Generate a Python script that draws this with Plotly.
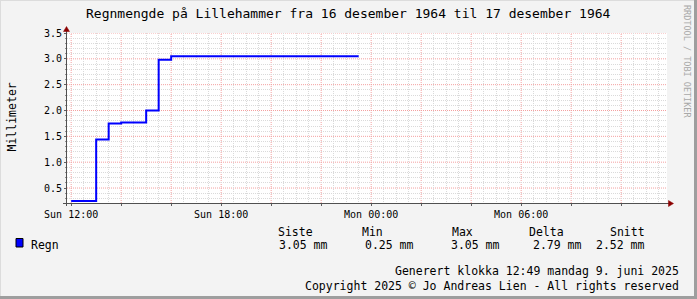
import plotly.graph_objects as go
import pandas as pd

# ---------------- data ----------------
TITLE = "Regnmengde på Lillehammer fra 16 desember 1964 til 17 desember 1964"
Y_LABEL = "Millimeter"
WATERMARK = "RRDTOOL / TOBI OETIKER"

times = ["1964-12-16 12:00", "1964-12-16 13:00", "1964-12-16 13:30",
         "1964-12-16 14:00", "1964-12-16 15:00", "1964-12-16 15:30",
         "1964-12-16 16:00", "1964-12-16 23:30"]
rain_mm = [0.25, 1.44, 1.75, 1.77, 2.00, 2.98, 3.05, 3.05]

x_range = ["1964-12-16 11:50", "1964-12-17 11:50"]
x_tickvals = ["1964-12-16 12:00", "1964-12-16 14:00", "1964-12-16 16:00",
              "1964-12-16 18:00", "1964-12-16 20:00", "1964-12-16 22:00",
              "1964-12-17 00:00", "1964-12-17 02:00", "1964-12-17 04:00",
              "1964-12-17 06:00", "1964-12-17 08:00", "1964-12-17 10:00"]
x_ticktext = ["Sun 12:00", "", "", "Sun 18:00", "", "",
              "Mon 00:00", "", "", "Mon 06:00", "", ""]

y_range = [0.21, 3.5]
y_tickvals = [0.5, 1.0, 1.5, 2.0, 2.5, 3.0, 3.5]
y_ticktext = ["0.5", "1.0", "1.5", "2.0", "2.5", "3.0", "3.5"]

series_name = "Regn"
stat_headers = ["Siste", "Min", "Max", "Delta", "Snitt"]
stat_values = ["3.05 mm", "0.25 mm", "3.05 mm", "2.79 mm", "2.52 mm"]
footer_lines = ["Generert klokka 12:49 mandag 9. juni 2025",
                "Copyright 2025 © Jo Andreas Lien - All rights reserved"]

# ---------------- geometry (pixels) ----------------
FW, FH = 697, 299
L, R, T, B = 67, 667, 33, 203
FONT = "DejaVu Sans Mono"


def px(x):
    return (x - L) / (R - L)


def py(y):
    return (B - y) / (B - T)


# minor grid positions (every 30 min / every 0.1), skipping the major lines
major_x = set(pd.to_datetime(x_tickvals))
minor_x = [t.strftime("%Y-%m-%d %H:%M")
           for t in pd.date_range("1964-12-16 12:00", "1964-12-17 11:30", freq="30min")
           if t not in major_x]
minor_y = [round(0.3 + 0.1 * i, 1) for i in range(33)]
minor_y = [v for v in minor_y if v <= 3.45 and round(v * 10) % 5 != 0]

fig = go.Figure()
fig.add_trace(go.Scatter(
    x=times, y=rain_mm, mode="lines", line=dict(color="#0000FF", width=2, shape="hv"),
    name=series_name, showlegend=False, hoverinfo="skip"))

red_grid = "#F4A0A0"
gray_grid = "#DADADA"

fig.update_layout(
    width=FW, height=FH,
    margin=dict(l=L, r=FW - R, t=T, b=FH - B, pad=0),
    paper_bgcolor="#F3F3F3", plot_bgcolor="#FFFFFF",
    font=dict(family=FONT, size=10, color="#000000"),
    showlegend=False,
    xaxis=dict(type="date", range=x_range, tickmode="array",
               tickvals=x_tickvals, ticktext=x_ticktext,
               showgrid=False,
               ticks="outside", ticklen=2, tickcolor="#606060",
               minor=dict(tickmode="array", tickvals=minor_x,
                          showgrid=True, gridcolor=gray_grid, griddash="1px,1px",
                          ticks="", gridwidth=1),
               zeroline=False, showline=False, fixedrange=True,
               tickfont=dict(family=FONT, size=10)),
    yaxis=dict(range=y_range, tickmode="array", tickvals=y_tickvals, ticktext=y_ticktext,
               showgrid=False,
               ticks="outside", ticklen=2, tickcolor="#606060",
               minor=dict(tickmode="array", tickvals=minor_y,
                          showgrid=True, gridcolor=gray_grid, griddash="1px,1px",
                          ticks="outside", ticklen=1, tickcolor="#909090", gridwidth=1),
               zeroline=False, showline=False, fixedrange=True,
               tickfont=dict(family=FONT, size=10)),
)

shapes = []
# major grid (red dotted) at the major tick positions
for tv in x_tickvals:
    shapes.append(dict(type="line", xref="x", yref="paper", x0=tv, x1=tv, y0=0, y1=1,
                       layer="below", line=dict(color=red_grid, width=1, dash="1px,1px")))
for tv in y_tickvals:
    shapes.append(dict(type="line", xref="paper", yref="y", x0=0, x1=1, y0=tv, y1=tv,
                       layer="below", line=dict(color=red_grid, width=1, dash="1px,1px")))
# axis lines
shapes.append(dict(type="line", xref="paper", yref="paper",
                   x0=px(63), x1=px(669), y0=py(203.5), y1=py(203.5),
                   line=dict(color="#505050", width=1)))
shapes.append(dict(type="line", xref="paper", yref="paper",
                   x0=px(66.5), x1=px(66.5), y0=py(29), y1=py(206),
                   line=dict(color="#505050", width=1)))
# arrow heads
shapes.append(dict(type="path", xref="paper", yref="paper",
                   path=f"M {px(63.5)},{py(31.5)} L {px(69.5)},{py(31.5)} L {px(66.5)},{py(26.5)} Z",
                   fillcolor="#8B0000", line=dict(color="#8B0000", width=0.5)))
shapes.append(dict(type="path", xref="paper", yref="paper",
                   path=f"M {px(668.5)},{py(200.5)} L {px(668.5)},{py(206.5)} L {px(673.5)},{py(203.5)} Z",
                   fillcolor="#8B0000", line=dict(color="#8B0000", width=0.5)))
# legend colour box
shapes.append(dict(type="rect", xref="paper", yref="paper",
                   x0=px(16), x1=px(23), y0=py(247), y1=py(238.5),
                   fillcolor="#0000FF", line=dict(color="#000000", width=1)))
# image border shading
shapes.append(dict(type="rect", xref="paper", yref="paper",
                   x0=px(0), x1=px(FW), y0=py(FH - 3), y1=py(FH),
                   fillcolor="#9E9E9E", line=dict(width=0)))
shapes.append(dict(type="rect", xref="paper", yref="paper",
                   x0=px(FW - 3), x1=px(FW), y0=py(0), y1=py(FH),
                   fillcolor="#9E9E9E", line=dict(width=0)))
shapes.append(dict(type="rect", xref="paper", yref="paper",
                   x0=px(0), x1=px(FW - 3), y0=py(0), y1=py(1),
                   fillcolor="#DCDCDC", line=dict(width=0)))
shapes.append(dict(type="rect", xref="paper", yref="paper",
                   x0=px(0), x1=px(1), y0=py(0), y1=py(FH - 3),
                   fillcolor="#DCDCDC", line=dict(width=0)))
fig.update_layout(shapes=shapes)

ann = []


def text(x, y, s, size, xanchor="left", color="#000000", angle=0):
    ann.append(dict(x=px(x), y=py(y), xref="paper", yref="paper", text=s,
                    showarrow=False, xanchor=xanchor, yanchor="middle",
                    textangle=angle, font=dict(family=FONT, size=size, color=color)))


text(348, 14, TITLE, 13, xanchor="center")
text(11, 117.5, Y_LABEL, 11.5, xanchor="center", angle=-90)
text(687, 61, WATERMARK, 8.5, xanchor="center", color="#A8A8A8", angle=90)

header_x = [275.7, 360, 450, 526.7, 608]
value_x = [277, 362.7, 449.3, 530.7, 594]
for hx, h in zip(header_x, stat_headers):
    text(hx, 231.5, h, 11.5)
for vx, v in zip(value_x, stat_values):
    text(vx, 244.5, v, 11.5)
text(29, 244.5, series_name, 11.5)
text(681, 271, footer_lines[0], 11.5, xanchor="right")
text(681, 285.5, footer_lines[1], 11.5, xanchor="right")

fig.update_layout(annotations=ann)
fig.write_html("out.html")
